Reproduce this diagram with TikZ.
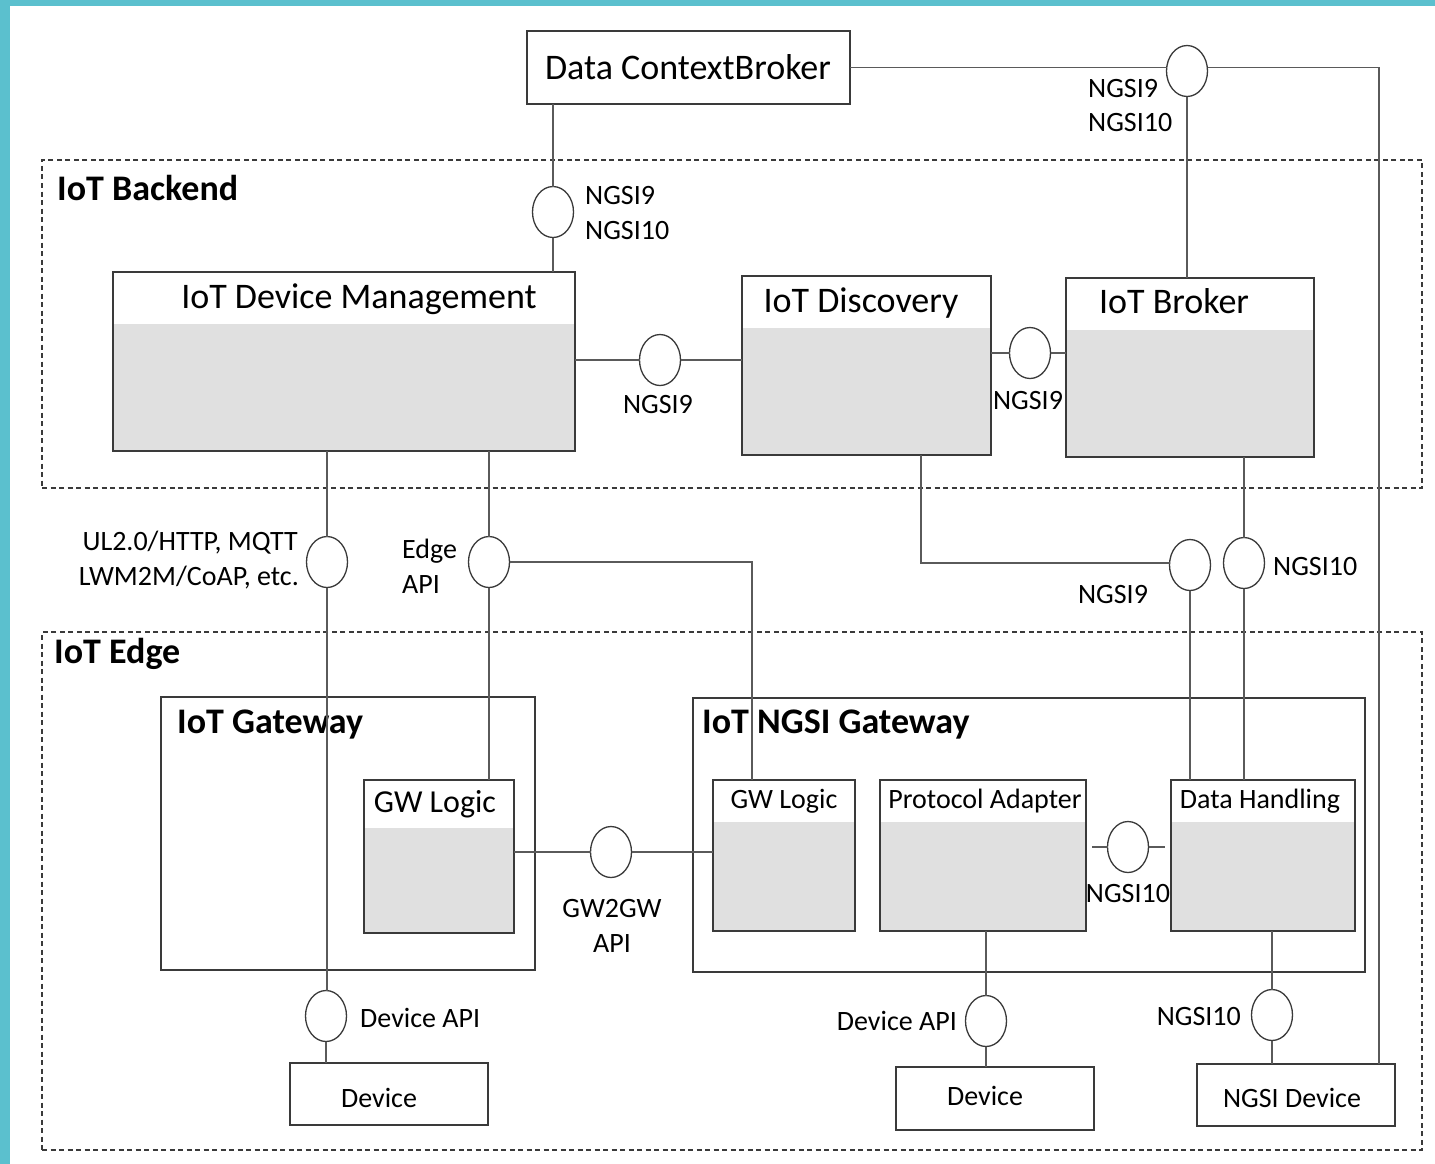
\documentclass[tikz,border=0pt]{standalone}
\usepackage{fontspec}
\setmainfont{Carlito}
\usetikzlibrary{shapes.geometric,backgrounds}
\definecolor{framebar}{HTML}{5BC0CE}
\definecolor{boxline}{HTML}{3A3A3A}
\definecolor{wire}{HTML}{5A5A5A}
\definecolor{boxgray}{HTML}{E0E0E0}
\begin{document}
\begin{tikzpicture}[x=1pt,y=-1pt,
  box/.style={draw=boxline, line width=1.5pt, anchor=north west, inner sep=0pt, outer sep=0pt},
  zone/.style={draw=boxline, line width=1.2pt, dash pattern=on 5pt off 3.5pt, anchor=north west, inner sep=0pt, outer sep=0pt},
  iface/.style={ellipse, draw=boxline, line width=1.3pt, fill=white, minimum width=41pt, minimum height=51pt, inner sep=0pt, outer sep=0pt},
  conn/.style={draw=wire, line width=1.2pt},
  big/.style={inner sep=0pt, anchor=base, font=\fontsize{36}{40}\selectfont},
  bigb/.style={inner sep=0pt, anchor=base west, font=\fontsize{36}{40}\selectfont\bfseries},
  mid/.style={inner sep=0pt, anchor=base, font=\fontsize{32}{36}\selectfont},
  sml/.style={inner sep=0pt, anchor=base, font=\fontsize{28}{32}\selectfont},
]
\useasboundingbox (0,0) rectangle (1435,1164);

% page and side bars
\begin{pgfonlayer}{background}
  \fill[white] (0,0) rectangle (1435,1164);
  \fill[framebar] (0,0) rectangle (1435,6);
  \fill[framebar] (0,0) rectangle (10,1164);
\end{pgfonlayer}

% zones
\node[zone, minimum width=1380pt, minimum height=328pt] (backend) at (42,160) {};
\node[zone, minimum width=1380pt, minimum height=518pt] (edge) at (42,632) {};
\node[bigb] (backT) at (57,200) {IoT Backend};
\node[bigb] (edgeT) at (54,663) {IoT Edge};

% top broker
\node[box, minimum width=323pt, minimum height=73pt] (dcb) at (527,31) {};
\node[big] (dcbT) at (688,80) {Data ContextBroker};

% backend components
\node[box, minimum width=462pt, minimum height=179pt] (dm) at (113,272) {};
\node[box, minimum width=249pt, minimum height=179pt] (disc) at (742,276) {};
\node[box, minimum width=248pt, minimum height=179pt] (broker) at (1066,278) {};
\node[big] (dmT) at (359,308) {IoT Device Management};
\node[big] (discT) at (861,312) {IoT Discovery};
\node[big] (brokT) at (1174,313) {IoT Broker};

% edge gateways
\node[box, minimum width=374pt, minimum height=273pt] (gw) at (161,697) {};
\node[box, minimum width=672pt, minimum height=274pt] (ngw) at (693,698) {};
\node[bigb] (gwT) at (177,733) {IoT Gateway};
\node[bigb] (ngwT) at (702,733) {IoT NGSI Gateway};
\node[box, minimum width=150pt, minimum height=153pt] (gwl) at (364,780) {};
\node[box, minimum width=142pt, minimum height=151pt] (gwr) at (713,780) {};
\node[box, minimum width=206pt, minimum height=151pt] (pa) at (880,780) {};
\node[box, minimum width=184pt, minimum height=151pt] (dh) at (1171,780) {};
\node[mid] (gwlT) at (435,812) {GW Logic};
\node[sml] (gwrT) at (784,808) {GW Logic};
\node[sml] (paT) at (985,808) {Protocol Adapter};
\node[sml] (dhT) at (1260,808) {Data Handling};

% devices
\node[box, minimum width=198pt, minimum height=62pt] (dev1) at (290,1063) {};
\node[box, minimum width=198pt, minimum height=63pt] (dev2) at (896,1067) {};
\node[box, minimum width=198pt, minimum height=62pt] (ngsidev) at (1197,1064) {};
\node[sml] (dev1T) at (379,1107) {Device};
\node[sml] (dev2T) at (985,1105) {Device};
\node[sml] (ngsidevT) at (1292,1107) {NGSI Device};

% shaded bodies of the split boxes
\begin{pgfonlayer}{background}
  \fill[boxgray] ([yshift=-52pt]dm.north west) rectangle (dm.south east);
  \fill[boxgray] ([yshift=-52pt]disc.north west) rectangle (disc.south east);
  \fill[boxgray] ([yshift=-52pt]broker.north west) rectangle (broker.south east);
  \fill[boxgray] ([yshift=-48pt]gwl.north west) rectangle (gwl.south east);
  \fill[boxgray] ([yshift=-42pt]gwr.north west) rectangle (gwr.south east);
  \fill[boxgray] ([yshift=-42pt]pa.north west) rectangle (pa.south east);
  \fill[boxgray] ([yshift=-42pt]dh.north west) rectangle (dh.south east);
\end{pgfonlayer}

% interfaces
\node[iface] (ctx) at (553,212) {};
\node[iface] (top) at (1187,71) {};
\node[iface] (dmdisc) at (660,360) {};
\node[iface] (discbrk) at (1030,353) {};
\node[iface] (south) at (327,562) {};
\node[iface] (edgeapi) at (489,562) {};
\node[iface] (ngsi9) at (1190,565) {};
\node[iface] (ngsi10) at (1244,563) {};
\node[iface] (gw2gw) at (611,852) {};
\node[iface] (pad) at (1128,847) {};
\node[iface] (devapi1) at (326,1016) {};
\node[iface] (devapi2) at (986,1021) {};
\node[iface] (ngsiapi) at (1272,1015) {};

% interface labels
\node[sml, anchor=base west] (l1) at (585,204) {NGSI9};
\node[sml, anchor=base west] (l2) at (585,239) {NGSI10};
\node[sml, anchor=base west] (l3) at (1088,97) {NGSI9};
\node[sml, anchor=base west] (l4) at (1088,131) {NGSI10};
\node[sml] (l5) at (658,413) {NGSI9};
\node[sml] (l6) at (1028,409) {NGSI9};
\node[sml, anchor=base east] (l7) at (298,550) {UL2.0/HTTP, MQTT};
\node[sml, anchor=base east] (l8) at (299,585) {LWM2M/CoAP, etc.};
\node[sml, anchor=base west] (l9) at (402,558) {Edge};
\node[sml, anchor=base west] (l10) at (402,593) {API};
\node[sml] (l11) at (1113,603) {NGSI9};
\node[sml, anchor=base west] (l12) at (1273,575) {NGSI10};
\node[sml] (l13) at (612,917) {GW2GW};
\node[sml] (l14) at (612,952) {API};
\node[sml] (l15) at (1128,902) {NGSI10};
\node[sml, anchor=base west] (l16) at (360,1027) {Device API};
\node[sml, anchor=base east] (l17) at (957,1030) {Device API};
\node[sml, anchor=base east] (l18) at (1241,1025) {NGSI10};

% bend points
\coordinate (rbus) at (1379,67.5);
\coordinate (dk) at (921,563);
\coordinate (ek) at (752,562);

% connectors
\draw[conn] (ctx.north) -- (ctx.north |- dcb.south);
\draw[conn] (ctx.south) -- (ctx.south |- dm.north);
\draw[conn] (dcb.east) -- (top.west |- dcb.east);
\draw[conn] (top.east |- rbus) -- (rbus) -- (rbus |- ngsidev.north);
\draw[conn] (top.south) -- (top.south |- broker.north);
\draw[conn] (dm.east |- dmdisc) -- (dmdisc.west);
\draw[conn] (dmdisc.east) -- (dmdisc.east -| disc.west);
\draw[conn] (disc.east |- discbrk) -- (discbrk.west);
\draw[conn] (discbrk.east) -- (discbrk.east -| broker.west);
\draw[conn] (south.north |- dm.south) -- (south.north);
\draw[conn] (south.south) -- (south.south |- devapi1.north);
\draw[conn] (devapi1.south) -- (devapi1.south |- dev1.north);
\draw[conn] (edgeapi.north |- dm.south) -- (edgeapi.north);
\draw[conn] (edgeapi.south) -- (edgeapi.south |- gwl.north);
\draw[conn] (edgeapi.east) -- (ek) -- (ek |- gwr.north);
\draw[conn] (dk |- disc.south) -- (dk) -- (ngsi9.west |- dk);
\draw[conn] (ngsi9.south) -- (ngsi9.south |- dh.north);
\draw[conn] (ngsi10.north |- broker.south) -- (ngsi10.north);
\draw[conn] (ngsi10.south) -- (ngsi10.south |- dh.north);
\draw[conn] (gwl.east |- gw2gw) -- (gw2gw.west);
\draw[conn] (gw2gw.east) -- (gw2gw.east -| gwr.west);
\draw[conn] ([xshift=6pt]pa.east |- pad) -- (pad.west);
\draw[conn] (pad.east) -- ([xshift=-6pt]pad.east -| dh.west);
\draw[conn] (devapi2.north |- pa.south) -- (devapi2.north);
\draw[conn] (devapi2.south) -- (devapi2.south |- dev2.north);
\draw[conn] (ngsiapi.north |- dh.south) -- (ngsiapi.north);
\draw[conn] (ngsiapi.south) -- (ngsiapi.south |- ngsidev.north);
\end{tikzpicture}
\end{document}
